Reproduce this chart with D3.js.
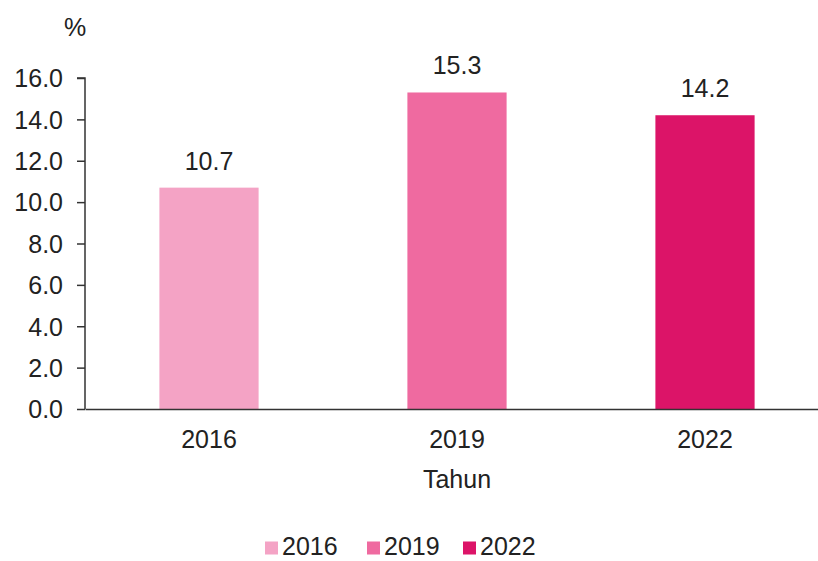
<!DOCTYPE html>
<html lang="en">
<head>
    <meta charset="utf-8">
    <title>Tahun</title>
    <script src="https://d3js.org/d3.v7.min.js"></script>
    <style>
        body{ margin: 0; background: #fff; }
        text{ font-family: "Liberation Sans", Arial, sans-serif; fill: #222; }
        .axisT{ font-size: 25px; }
        .titleT{ font-size: 25px; }
        .labelT{ font-size: 25px; }
        .legendT{ font-size: 25px; }
    </style>
</head>
<body>
    <div id="container"></div>
    <script type="text/javascript">
        var years = ['2016', '2019', '2022'];
        var values = [10.7, 15.3, 14.2];
        var colors = ['#f4a3c5', '#ef6aa0', '#dc1468'];
        var yTicks = [0, 2, 4, 6, 8, 10, 12, 14, 16];

        var width = 818, height = 561;
        var margin = {top: 78, right: -11, bottom: 152, left: 85};
        var innerW = width - margin.left - margin.right;
        var innerH = height - margin.top - margin.bottom;

        var svg = d3.select('#container')
                    .append('svg')
                    .attr('width', width)
                    .attr('height', height);
        var g = svg.append('g')
                   .attr('transform', 'translate(' + margin.left + ',' + margin.top + ')');

        var xScale = d3.scaleBand().domain(years).range([0, innerW]).paddingInner(0.6).paddingOuter(0.3);
        var yScale = d3.scaleLinear().domain([0, 16]).range([innerH, 0]);

        g.selectAll('.bar')
         .data(years)
         .enter()
         .append('rect')
         .attr('class', 'bar')
         .attr('x', d => xScale(d))
         .attr('width', xScale.bandwidth())
         .attr('y', (d, i) => yScale(values[i]))
         .attr('height', (d, i) => innerH - yScale(values[i]))
         .attr('fill', (d, i) => colors[i]);

        g.selectAll('.labelT')
         .data(years)
         .enter()
         .append('text')
         .attr('class', 'labelT')
         .attr('text-anchor', 'middle')
         .attr('x', d => xScale(d) + xScale.bandwidth() / 2)
         .attr('y', (d, i) => yScale(values[i]) - 18)
         .text((d, i) => values[i].toFixed(1));

        var yAxis = d3.axisLeft(yScale).tickValues(yTicks).tickFormat(d3.format('.1f')).tickSize(8).tickPadding(14);
        var yG = g.append('g').call(yAxis);
        yG.select('.domain').attr('stroke', '#333').attr('stroke-width', 1.5).attr('d', 'M-8,0H0V' + innerH);
        yG.selectAll('.tick line').attr('stroke', '#333').attr('stroke-width', 1.5);
        yG.selectAll('.tick text').attr('class', 'axisT').attr('font-family', null).attr('font-size', null).attr('dy', '0.35em');

        var xAxis = d3.axisBottom(xScale).tickSize(0).tickPadding(21);
        var xG = g.append('g').attr('transform', 'translate(0,' + innerH + ')').call(xAxis);
        xG.select('.domain').attr('stroke', '#333').attr('stroke-width', 1.5);
        xG.selectAll('.tick text').attr('class', 'axisT').attr('font-family', null).attr('font-size', null).attr('dy', '0.71em');

        g.append('text')
         .attr('class', 'titleT')
         .attr('text-anchor', 'middle')
         .attr('x', xScale('2019') + xScale.bandwidth() / 2)
         .attr('y', innerH + 79)
         .text('Tahun');

        svg.append('text')
           .attr('class', 'titleT')
           .attr('x', 64)
           .attr('y', 36)
           .text('%');

        // legend
        var legendX = [265, 367, 463];
        var legend = svg.selectAll('.legend')
                        .data(years)
                        .enter()
                        .append('g')
                        .attr('transform', (d, i) => 'translate(' + legendX[i] + ',548)');
        legend.append('rect')
              .attr('x', 0).attr('y', -6.5)
              .attr('width', 13).attr('height', 13)
              .attr('fill', (d, i) => colors[i]);
        legend.append('text')
              .attr('class', 'legendT')
              .attr('x', 17)
              .attr('y', 7)
              .text(d => d);
    </script>
</body>
</html>
